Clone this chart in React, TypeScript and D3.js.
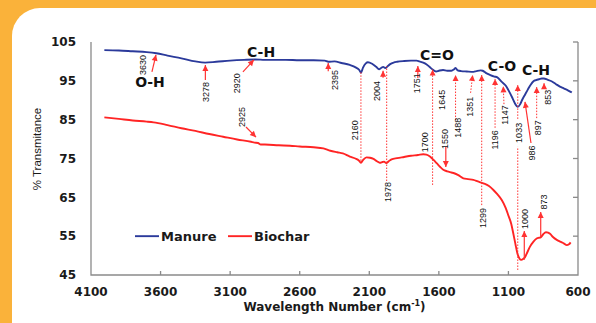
import React, { useEffect, useRef } from 'react';
import * as d3 from 'd3';

const W = 596;
const H = 323;

const xTicks = [4100, 3600, 3100, 2600, 2100, 1600, 1100, 600];
const yTicks = [45, 55, 65, 75, 85, 95, 105];

// [wavenumber, % transmittance]
const manure: [number, number][] = [
  [4004, 102.9], [3900, 102.8], [3800, 102.6], [3700, 102.4], [3630, 102.1], [3550, 101.5],
  [3450, 100.8], [3350, 100.0], [3280, 99.7], [3200, 99.9], [3100, 100.2], [3000, 100.4],
  [2920, 100.5], [2850, 100.4], [2700, 100.4], [2600, 100.3], [2500, 100.3], [2420, 100.2],
  [2395, 99.9], [2350, 100.0], [2300, 99.6], [2240, 99.1], [2195, 98.4], [2172, 97.8],
  [2160, 97.1], [2145, 98.4], [2125, 99.5], [2110, 99.8], [2080, 99.4], [2050, 98.6],
  [2030, 98.0], [2015, 98.3], [2000, 98.6], [1985, 98.3], [1970, 98.7], [1950, 99.3],
  [1925, 99.7], [1900, 99.9], [1850, 100.1], [1800, 100.2], [1760, 100.2], [1740, 100.0],
  [1700, 99.5], [1670, 98.7], [1645, 97.9], [1620, 97.4], [1600, 97.6], [1570, 97.8],
  [1540, 97.6], [1510, 97.6], [1490, 98.0], [1480, 98.3], [1465, 97.7], [1440, 97.5],
  [1400, 97.4], [1351, 97.3], [1330, 97.5], [1300, 97.7], [1285, 97.6], [1260, 97.0],
  [1230, 96.5], [1200, 96.1], [1180, 95.9], [1150, 94.8], [1120, 93.8], [1100, 92.6],
  [1070, 90.5], [1050, 89.0], [1033, 88.3], [1015, 89.0], [1000, 90.2], [980, 91.5],
  [960, 92.8], [940, 94.0], [920, 94.9], [900, 95.2], [880, 95.4], [860, 95.6],
  [845, 95.6], [820, 95.3], [790, 94.9], [760, 94.2], [730, 93.5], [700, 93.0],
  [670, 92.5], [645, 92.0],
];

const biochar: [number, number][] = [
  [4004, 85.6], [3900, 85.2], [3800, 84.8], [3700, 84.5], [3650, 84.3], [3550, 83.6],
  [3450, 82.8], [3350, 82.1], [3250, 81.3], [3150, 80.6], [3050, 79.9], [2950, 79.3],
  [2925, 79.1], [2900, 79.0], [2880, 78.6], [2850, 78.6], [2750, 78.4], [2670, 78.3],
  [2600, 78.1], [2500, 77.9], [2430, 77.6], [2380, 77.0], [2330, 76.6], [2290, 76.3],
  [2240, 75.5], [2200, 75.0], [2175, 74.5], [2160, 73.9], [2145, 74.6], [2120, 75.3],
  [2095, 75.2], [2070, 74.9], [2045, 74.3], [2025, 73.9], [2005, 74.1], [1994, 74.2],
  [1978, 73.8], [1960, 74.3], [1940, 74.8], [1900, 75.1], [1850, 75.4], [1800, 75.7],
  [1750, 75.9], [1712, 76.1], [1690, 76.0], [1664, 75.5], [1640, 74.7], [1616, 73.8],
  [1590, 72.8], [1568, 72.1], [1540, 71.7], [1510, 71.4], [1490, 71.2], [1460, 70.7],
  [1424, 69.9], [1390, 69.7], [1352, 69.5], [1320, 69.1], [1280, 68.6], [1240, 67.9],
  [1208, 66.9], [1180, 65.8], [1148, 64.3], [1120, 62.3], [1101, 60.4], [1080, 58.2],
  [1065, 55.7], [1050, 53.0], [1035, 50.5], [1020, 49.2], [1008, 48.9], [995, 49.1],
  [981, 49.6], [965, 50.8], [945, 52.3], [920, 53.6], [897, 54.4], [880, 54.6],
  [868, 54.7], [850, 55.5], [830, 56.0], [815, 55.9], [801, 55.6], [780, 54.8],
  [755, 54.1], [729, 53.6], [700, 53.1], [681, 52.7], [665, 52.9], [653, 53.4],
];

// peak numbers, placed at [wavenumber, transmittance] of the label centre
const peakLabels: { text: string; wn: number; t: number }[] = [
  { text: '3630', wn: 3726, t: 99.1 }, { text: '3278', wn: 3273, t: 92.1 },
  { text: '2920', wn: 3051, t: 94.4 }, { text: '2925', wn: 3015, t: 85.7 },
  { text: '2395', wn: 2346, t: 95.2 }, { text: '2160', wn: 2203, t: 82.3 },
  { text: '2004', wn: 2045, t: 92.4 }, { text: '1978', wn: 1965, t: 66.4 },
  { text: '1751', wn: 1757, t: 94.4 }, { text: '1645', wn: 1577, t: 90.1 },
  { text: '1700', wn: 1700, t: 79.2 }, { text: '1550', wn: 1556, t: 80.0 },
  { text: '1488', wn: 1462, t: 82.9 }, { text: '1351', wn: 1376, t: 88.3 },
  { text: '1299', wn: 1285, t: 59.7 }, { text: '1196', wn: 1196, t: 79.8 },
  { text: '1147', wn: 1125, t: 86.2 }, { text: '1033', wn: 1022, t: 81.6 },
  { text: '986', wn: 933, t: 76.4 }, { text: '897', wn: 892, t: 82.9 },
  { text: '853', wn: 820, t: 90.8 }, { text: '1000', wn: 981, t: 59.4 },
  { text: '873', wn: 844, t: 63.8 },
];

const bandLabels: { text: string; wn: number; t: number }[] = [
  { text: 'O-H', wn: 3676, t: 94.7 }, { text: 'C-H', wn: 2878, t: 102.4 },
  { text: 'C=O', wn: 1613, t: 101.7 }, { text: 'C-O', wn: 1146, t: 98.8 },
  { text: 'C-H', wn: 902, t: 97.8 },
];

// pointers: from -> to, in data units
const pointers: { from: [number, number]; to: [number, number]; dotted: boolean; head: boolean }[] = [
  { from: [3662, 97.3], to: [3633, 101.7], dotted: false, head: true },
  { from: [3278, 95.2], to: [3278, 99.1], dotted: false, head: true },
  { from: [3008, 97.3], to: [2929, 100.4], dotted: false, head: true },
  { from: [2986, 83.1], to: [2914, 80.5], dotted: false, head: true },
  { from: [2395, 97.5], to: [2395, 99.6], dotted: false, head: true },
  { from: [2001, 95.8], to: [2001, 97.6], dotted: false, head: true },
  { from: [1751, 95.7], to: [1751, 98.8], dotted: false, head: true },
  { from: [1550, 78.0], to: [1550, 72.8], dotted: false, head: true },
  { from: [938, 79.0], to: [981, 89.6], dotted: false, head: true },
  { from: [986, 48.9], to: [986, 56.3], dotted: false, head: true },
  { from: [868, 54.8], to: [868, 61.2], dotted: false, head: true },
  { from: [844, 93.0], to: [844, 94.4], dotted: false, head: true },
  { from: [1645, 68.2], to: [1645, 97.9], dotted: true, head: true },
  { from: [1480, 84.9], to: [1480, 96.5], dotted: true, head: true },
  { from: [1372, 91.9], to: [1357, 96.5], dotted: true, head: true },
  { from: [1292, 63.0], to: [1292, 96.5], dotted: true, head: true },
  { from: [1196, 82.9], to: [1196, 95.5], dotted: true, head: true },
  { from: [1132, 89.0], to: [1137, 93.6], dotted: true, head: true },
  { from: [1033, 46.3], to: [1033, 78.0], dotted: true, head: false },
  { from: [1033, 85.2], to: [1033, 93.9], dotted: true, head: true },
  { from: [897, 85.4], to: [897, 93.4], dotted: true, head: true },
  { from: [2160, 74.4], to: [2160, 97.3], dotted: true, head: false },
  { from: [1975, 69.2], to: [1975, 98.8], dotted: true, head: false },
];

const series = [
  { name: 'Manure', color: '#2B3A9B', data: manure },
  { name: 'Biochar', color: '#FF2424', data: biochar },
];

const BOLD = "'DejaVu Sans', Verdana, sans-serif";
const NARROW = "'Liberation Sans Narrow', 'Liberation Sans', Arial, sans-serif";

const App: React.FC = () => {
  const svgRef = useRef<SVGSVGElement>(null);

  useEffect(() => {
    if (!svgRef.current) return;
    const svg = d3.select(svgRef.current);
    svg.selectAll('*').remove();

    // orange frame + white rounded panel
    svg.append('rect').attr('width', W).attr('height', H).attr('fill', '#FAB23A');
    svg.append('rect').attr('x', 12).attr('y', 8).attr('width', W + 40).attr('height', H + 40)
      .attr('rx', 28).attr('fill', '#fff');

    const x = d3.scaleLinear().domain([4100, 600]).range([91, 578]);
    const y = d3.scaleLinear().domain([45, 105]).range([275, 42]);
    const gray = '#8A8A8A';

    // axes frame (left, bottom, right)
    svg.append('path')
      .attr('d', `M${x(4100)},${y(105)}V${y(45)}H${x(600)}V${y(105)}`)
      .attr('fill', 'none').attr('stroke', gray).attr('stroke-width', 1.3);

    svg.append('g').selectAll('line').data(xTicks.slice(1, -1)).join('line')
      .attr('x1', d => x(d)).attr('x2', d => x(d))
      .attr('y1', y(45)).attr('y2', y(45) - 4)
      .attr('stroke', gray).attr('stroke-width', 1.3);

    svg.append('g').selectAll('line').data(yTicks.slice(1)).join('line')
      .attr('x1', x(600)).attr('x2', x(600) - 5)
      .attr('y1', d => y(d)).attr('y2', d => y(d))
      .attr('stroke', gray).attr('stroke-width', 1.3);

    svg.append('g').selectAll('text').data(xTicks).join('text')
      .attr('x', d => x(d)).attr('y', y(45) + 21)
      .attr('text-anchor', 'middle')
      .attr('font-family', BOLD).attr('font-weight', 'bold').attr('font-size', 12)
      .attr('fill', '#1a1a1a').text(d => d);

    svg.append('g').selectAll('text').data(yTicks).join('text')
      .attr('x', 76).attr('y', d => y(d)).attr('dy', '0.36em')
      .attr('text-anchor', 'end')
      .attr('font-family', BOLD).attr('font-weight', 'bold').attr('font-size', 12)
      .attr('fill', '#1a1a1a').text(d => d);

    const xt = svg.append('text')
      .attr('x', (x(4100) + x(600)) / 2).attr('y', 311)
      .attr('text-anchor', 'middle')
      .attr('font-family', BOLD).attr('font-weight', 'bold').attr('font-size', 12)
      .attr('fill', '#1a1a1a');
    xt.append('tspan').text('Wavelength Number (cm');
    xt.append('tspan').attr('font-size', 8).attr('dy', -5).text('-1');
    xt.append('tspan').attr('dy', 5).text(')');

    svg.append('text')
      .attr('transform', `translate(41,${149}) rotate(-90)`)
      .attr('text-anchor', 'middle')
      .attr('font-family', "'Liberation Sans', Arial, sans-serif").attr('font-size', 11.5)
      .attr('fill', '#1a1a1a').text('% Transmitance');

    // spectra
    const line = d3.line<[number, number]>()
      .x(d => x(d[0])).y(d => y(d[1]))
      .curve(d3.curveMonotoneX);

    series.forEach(s => {
      svg.append('path').datum(s.data).attr('d', line)
        .attr('fill', 'none').attr('stroke', s.color).attr('stroke-width', 1.9)
        .attr('stroke-linejoin', 'round');
    });

    // pointers
    const red = '#FF3333';
    pointers.forEach(p => {
      const x1 = x(p.from[0]), y1 = y(p.from[1]);
      const x2 = x(p.to[0]), y2 = y(p.to[1]);
      svg.append('line')
        .attr('x1', x1).attr('y1', y1).attr('x2', x2).attr('y2', y2)
        .attr('stroke', red).attr('stroke-width', p.dotted ? 1 : 1.2)
        .attr('stroke-dasharray', p.dotted ? '1.5,1.5' : null);
      if (p.head) {
        const a = Math.atan2(y2 - y1, x2 - x1);
        const len = 6, half = 3;
        const bx = x2 - len * Math.cos(a), by = y2 - len * Math.sin(a);
        const pts = [
          [x2, y2],
          [bx + half * Math.sin(a), by - half * Math.cos(a)],
          [bx - half * Math.sin(a), by + half * Math.cos(a)],
        ];
        svg.append('polygon').attr('points', pts.map(q => q.join(',')).join(' ')).attr('fill', red);
      }
    });

    svg.append('g').selectAll('text').data(peakLabels).join('text')
      .attr('transform', d => `translate(${x(d.wn)},${y(d.t)}) rotate(-90)`)
      .attr('text-anchor', 'middle').attr('dy', '0.35em')
      .attr('font-family', NARROW).attr('font-size', 9)
      .attr('fill', '#111').text(d => d.text);

    svg.append('g').selectAll('text').data(bandLabels).join('text')
      .attr('x', d => x(d.wn)).attr('y', d => y(d.t)).attr('dy', '0.36em')
      .attr('text-anchor', 'middle')
      .attr('font-family', BOLD).attr('font-weight', 'bold').attr('font-size', 14)
      .attr('fill', '#111').text(d => d.text);

    // legend
    const leg = svg.append('g').attr('transform', `translate(135,${y(55)})`);
    series.forEach((s, i) => {
      const g = leg.append('g').attr('transform', `translate(${i * 93},0)`);
      g.append('line').attr('x1', 0).attr('x2', 24).attr('y1', 0).attr('y2', 0)
        .attr('stroke', s.color).attr('stroke-width', 1.9);
      g.append('text').attr('x', 26).attr('dy', '0.36em')
        .attr('font-family', BOLD).attr('font-weight', 'bold').attr('font-size', 13)
        .attr('fill', '#1a1a1a').text(s.name);
    });
  }, []);

  return (
    <svg ref={svgRef} width={W} height={H}
      style={{ position: 'absolute', left: 0, top: 0, display: 'block' }} />
  );
};

export default App;
